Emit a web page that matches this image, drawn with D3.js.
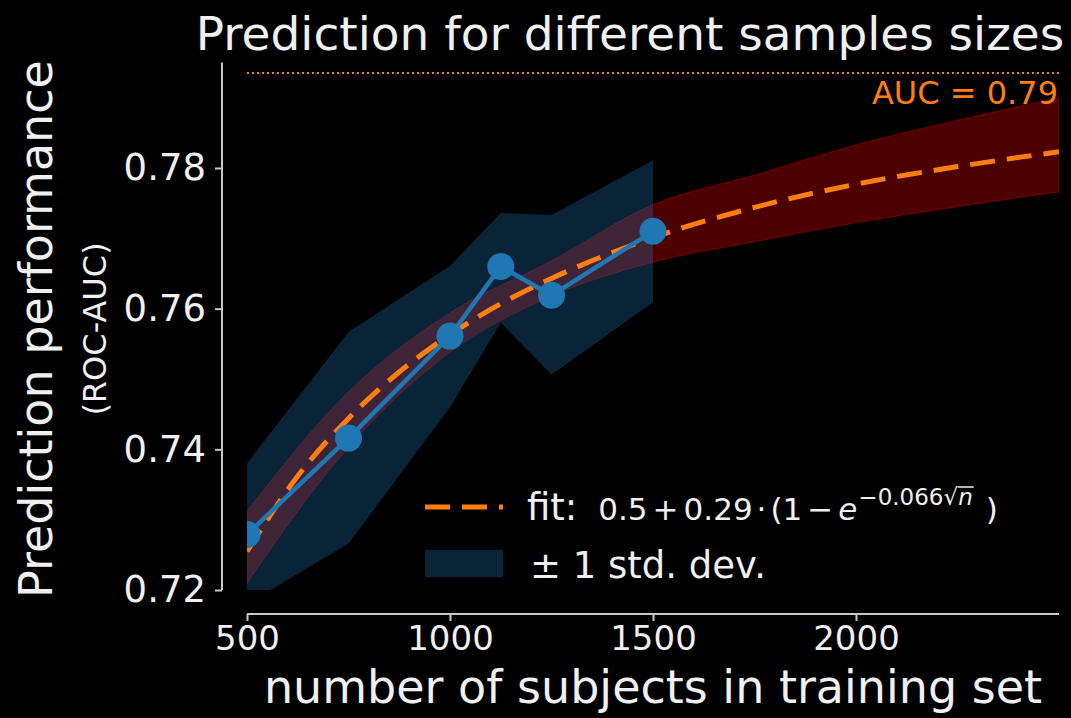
<!DOCTYPE html>
<html>
<head>
<meta charset="utf-8">
<script src="https://cdn.jsdelivr.net/npm/d3@7"></script>
<style>
  html, body { margin: 0; padding: 0; background: #000; }
  svg { display: block; }
  text { font-family: "DejaVu Sans", sans-serif; }
</style>
</head>
<body>
<svg id="chart" width="1071" height="718"></svg>
<script>
// observed scores (mean and +/- 1 std)
var sampleSizes = [500, 750, 1000, 1125, 1250, 1500];
var meanAuc = [0.7279, 0.7416, 0.7561, 0.7660, 0.7619, 0.7710];
var stdLow = [0.7180, 0.7266, 0.7460, 0.7580, 0.7506, 0.7609];
var stdHigh = [0.7380, 0.7567, 0.7661, 0.7736, 0.7733, 0.7811];

// fitted learning curve
var fitN = [500, 625, 750, 875, 1000, 1125, 1250, 1500, 1750, 2000, 2250, 2500];
var fitAuc = [0.7255, 0.7362, 0.7444, 0.7510, 0.7563, 0.7607, 0.7643, 0.7701, 0.7744, 0.7777, 0.7802, 0.7823];

// uncertainty band of the fit
var bandN = [500, 750, 1000, 1250, 1500, 1750, 2000, 2250, 2500];
var bandLow = [0.7210, 0.7403, 0.7538, 0.7618, 0.7666, 0.7695, 0.7722, 0.7745, 0.7766];
var bandHigh = [0.7312, 0.7482, 0.7594, 0.7668, 0.7748, 0.7790, 0.7833, 0.7868, 0.7900];

var aucLimit = 0.7935;
var xTicks = [500, 1000, 1500, 2000];
var yTicks = [0.72, 0.74, 0.76, 0.78];

var orange = '#ff7f0e';
var blue = '#1f77b4';
var axisColor = '#c8c8c8';
var textColor = '#f0f0f0';

var svg = d3.select('#chart');
svg.append('rect').attr('width', 1071).attr('height', 718).attr('fill', '#000');

var x = d3.scaleLinear().domain([500, 2500]).range([247, 1059]);
var y = d3.scaleLinear().domain([0.72, 0.795]).range([590, 62.5]);

svg.append('clipPath').attr('id', 'plotClip')
    .append('rect')
    .attr('x', x(500)).attr('y', y(0.795))
    .attr('width', x(2500) - x(500)).attr('height', y(0.72) - y(0.795));

var plot = svg.append('g').attr('clip-path', 'url(#plotClip)');

// fit band
var bandData = bandN.map(function (n, i) { return { n: n, lo: bandLow[i], hi: bandHigh[i] }; });
plot.append('path')
    .datum(bandData)
    .attr('fill', 'red')
    .attr('fill-opacity', 0.3)
    .attr('stroke', 'red')
    .attr('stroke-opacity', 0.3)
    .attr('stroke-width', 1)
    .attr('d', d3.area()
        .x(function (d) { return x(d.n); })
        .y0(function (d) { return y(d.lo); })
        .y1(function (d) { return y(d.hi); })
        .curve(d3.curveMonotoneX));

// std band
var stdData = sampleSizes.map(function (n, i) { return { n: n, lo: stdLow[i], hi: stdHigh[i] }; });
plot.append('path')
    .datum(stdData)
    .attr('fill', blue)
    .attr('fill-opacity', 0.3)
    .attr('d', d3.area()
        .x(function (d) { return x(d.n); })
        .y0(function (d) { return y(d.lo); })
        .y1(function (d) { return y(d.hi); }));

// asymptote
plot.append('line')
    .attr('x1', x(500)).attr('x2', x(2500))
    .attr('y1', y(aucLimit)).attr('y2', y(aucLimit))
    .attr('stroke', orange)
    .attr('stroke-width', 2)
    .attr('stroke-dasharray', '2,3');

// fit line
var fitData = fitN.map(function (n, i) { return { n: n, v: fitAuc[i] }; });
plot.append('path')
    .datum(fitData)
    .attr('fill', 'none')
    .attr('stroke', orange)
    .attr('stroke-width', 5)
    .attr('stroke-dasharray', '25,12')
    .attr('d', d3.line()
        .x(function (d) { return x(d.n); })
        .y(function (d) { return y(d.v); })
        .curve(d3.curveMonotoneX));

// observed line + markers
var obs = sampleSizes.map(function (n, i) { return { n: n, v: meanAuc[i] }; });
plot.append('path')
    .datum(obs)
    .attr('fill', 'none')
    .attr('stroke', blue)
    .attr('stroke-width', 4.5)
    .attr('d', d3.line()
        .x(function (d) { return x(d.n); })
        .y(function (d) { return y(d.v); }));
plot.selectAll('circle.obs')
    .data(obs)
    .enter()
        .append('circle').classed('obs', true)
        .attr('cx', function (d) { return x(d.n); })
        .attr('cy', function (d) { return y(d.v); })
        .attr('r', 13.5)
        .attr('fill', blue);

svg.append('text')
    .attr('x', 1058).attr('y', 104)
    .attr('text-anchor', 'end')
    .attr('font-size', 32)
    .attr('fill', orange)
    .text('AUC = ' + aucLimit.toFixed(2));

// axes (detached spines)
var xAxis = svg.append('g')
    .attr('transform', 'translate(0,614)')
    .call(d3.axisBottom(x).tickValues(xTicks).tickSize(7).tickPadding(5).tickFormat(d3.format('d')));
var yAxis = svg.append('g')
    .attr('transform', 'translate(222,0)')
    .call(d3.axisLeft(y).tickValues(yTicks).tickSize(7).tickPadding(9).tickFormat(d3.format('.2f')));
[xAxis, yAxis].forEach(function (g) {
    g.select('.domain').attr('stroke', axisColor).attr('stroke-width', 2);
    g.selectAll('.tick line').attr('stroke', axisColor).attr('stroke-width', 2);
    g.selectAll('.tick text')
        .attr('fill', textColor)
        .attr('font-family', '"DejaVu Sans", sans-serif');
});
xAxis.selectAll('.tick text').attr('font-size', 34);
yAxis.selectAll('.tick text').attr('font-size', 37);
xAxis.select('.domain').attr('d', 'M' + x(500) + ',0H' + x(2500));
yAxis.select('.domain').attr('d', 'M0,' + y(0.72) + 'V' + y(0.795));

// titles
svg.append('text')
    .attr('x', 630).attr('y', 50)
    .attr('text-anchor', 'middle')
    .attr('font-size', 47)
    .attr('fill', textColor)
    .text('Prediction for different samples sizes');
svg.append('text')
    .attr('x', 653).attr('y', 703)
    .attr('text-anchor', 'middle')
    .attr('font-size', 46)
    .attr('fill', textColor)
    .text('number of subjects in training set');
svg.append('text')
    .attr('transform', 'translate(52,329) rotate(-90)')
    .attr('text-anchor', 'middle')
    .attr('font-size', 46)
    .attr('fill', textColor)
    .text('Prediction performance');
svg.append('text')
    .attr('transform', 'translate(106,329) rotate(-90)')
    .attr('text-anchor', 'middle')
    .attr('font-size', 32)
    .attr('fill', textColor)
    .text('(ROC-AUC)');

// legend
var legend = svg.append('g');
legend.append('line')
    .attr('x1', 425).attr('x2', 503)
    .attr('y1', 507).attr('y2', 507)
    .attr('stroke', orange)
    .attr('stroke-width', 5)
    .attr('stroke-dasharray', '25,12');
legend.append('rect')
    .attr('x', 425).attr('y', 550)
    .attr('width', 78).attr('height', 27)
    .attr('fill', blue)
    .attr('fill-opacity', 0.3);
legend.append('text')
    .attr('x', 530).attr('y', 578)
    .attr('font-size', 37)
    .attr('fill', textColor)
    .text('\u00b1 1 std. dev.');

// fit label: plain text followed by a small math run (gap = space before the piece)
var pieces = [
    { t: 'fit:', size: 37, dy: 0, gap: 0 },
    { t: '0.5', size: 31, dy: 0, gap: 21 },
    { t: '+', size: 31, dy: 0, gap: 5 },
    { t: '0.29', size: 31, dy: 0, gap: 5 },
    { t: '\u00b7', size: 31, dy: 0, gap: 4 },
    { t: '(1', size: 31, dy: 0, gap: 4 },
    { t: '\u2212', size: 31, dy: 0, gap: 5 },
    { t: 'e', size: 31, dy: 0, gap: 5, italic: true },
    { t: '\u22120.066\u221a', size: 23, dy: -15, gap: 1 },
    { t: 'n', size: 23, dy: -15, gap: 0, italic: true, bar: true },
    { t: ')', size: 31, dy: 0, gap: 13 }
];
var cursor = 527;
pieces.forEach(function (p) {
    cursor += p.gap;
    var t = legend.append('text')
        .attr('x', cursor).attr('y', 520 + p.dy)
        .attr('font-size', p.size)
        .attr('font-style', p.italic ? 'italic' : 'normal')
        .attr('fill', textColor)
        .text(p.t);
    var w = t.node().getComputedTextLength();
    if (p.bar) {
        legend.append('line')
            .attr('x1', cursor).attr('x2', cursor + w + 1)
            .attr('y1', 520 + p.dy - 18).attr('y2', 520 + p.dy - 18)
            .attr('stroke', textColor).attr('stroke-width', 1.5);
    }
    cursor += w;
});
</script>
</body>
</html>
